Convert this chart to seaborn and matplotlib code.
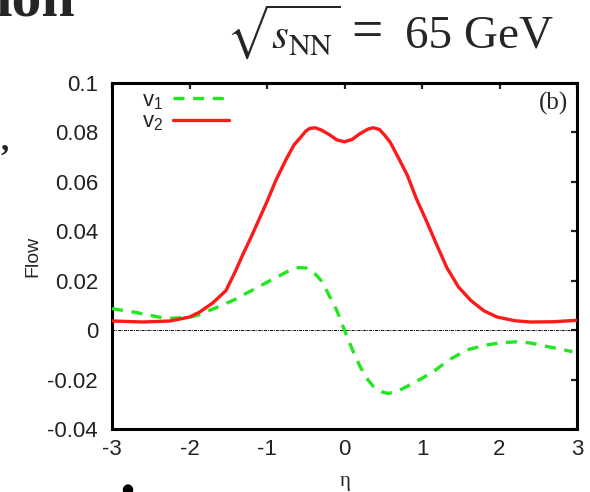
import numpy as np
import pandas as pd
import matplotlib
matplotlib.use("Agg")
import matplotlib.pyplot as plt
import seaborn as sns
from matplotlib.patches import Ellipse

# ---- data ----
eta_v2 = [-3.0, -2.6, -2.25, -2.0, -1.87, -1.7, -1.53, -1.42, -1.31, -1.2, -1.0,
          -0.88, -0.75, -0.65, -0.58, -0.5, -0.45, -0.38, -0.3, -0.19, -0.1, 0.0,
          0.1, 0.2, 0.3, 0.37, 0.45, 0.52, 0.59, 0.7, 0.81, 0.93, 1.06, 1.19, 1.32,
          1.47, 1.63, 1.8, 1.97, 2.2, 2.4, 2.7, 3.0]
v2 = [0.0037, 0.0033, 0.0037, 0.0053, 0.0073, 0.011, 0.016, 0.023, 0.0307, 0.038,
      0.052, 0.061, 0.0693, 0.075, 0.0775, 0.0805, 0.0816, 0.0819, 0.081, 0.079,
      0.077, 0.0762, 0.0772, 0.0795, 0.0813, 0.0819, 0.0812, 0.0788, 0.076,
      0.0695, 0.0627, 0.053, 0.044, 0.0345, 0.0253, 0.0175, 0.012, 0.0078, 0.0053,
      0.0038, 0.0033, 0.0034, 0.004]

eta_v1 = [-3.0, -2.7, -2.3, -2.0, -1.9, -1.7, -1.44, -1.2, -0.92, -0.75, -0.62,
          -0.5, -0.4, -0.3, -0.23, -0.1, 0.0, 0.1, 0.2, 0.3, 0.37, 0.5, 0.57, 0.7,
          0.81, 1.0, 1.15, 1.35, 1.58, 1.8, 2.01, 2.23, 2.4, 2.58, 2.8, 2.94]
v1 = [0.0087, 0.0072, 0.0047, 0.0052, 0.006, 0.0085, 0.012, 0.016, 0.0207, 0.0235,
      0.0253, 0.0252, 0.0235, 0.020, 0.016, 0.008, 0.0, -0.0078, -0.0147, -0.020,
      -0.0227, -0.0252, -0.0256, -0.0245, -0.0227, -0.0195, -0.0167, -0.012,
      -0.008, -0.0062, -0.0051, -0.0047, -0.0052, -0.0064, -0.0078, -0.0087]

xticks = [-3, -2, -1, 0, 1, 2, 3]
xtick_labels = ["-3", "-2", "-1", "0", "1", "2", "3"]
yticks = [-0.04, -0.02, 0.0, 0.02, 0.04, 0.06, 0.08, 0.1]
ytick_labels = ["-0.04", "-0.02", "0", "0.02", "0.04", "0.06", "0.08", "0.1"]
series_labels = [r"v$_1$", r"v$_2$"]

# ---- style ----
sns.set_style("white")
plt.rcParams["font.family"] = ["Liberation Sans", "DejaVu Sans"]
plt.rcParams["mathtext.fontset"] = "custom"
plt.rcParams["mathtext.rm"] = "Liberation Sans"
plt.rcParams["mathtext.it"] = "Liberation Sans:italic"
plt.rcParams["mathtext.default"] = "regular"

W, H = 590, 492
fig = plt.figure(figsize=(W / 100, H / 100), dpi=100)
fig.patch.set_facecolor("white")
L, R, T, B = 112, 577, 83, 429
ax = fig.add_axes([L / W, 1 - B / H, (R - L) / W, (B - T) / H])

df1 = pd.DataFrame({"eta": eta_v1, "flow": v1})
df2 = pd.DataFrame({"eta": eta_v2, "flow": v2})

ax.axhline(0, color="black", lw=0.7, ls=(0, (3, 1, 1, 1)), zorder=1)
sns.lineplot(data=df1, x="eta", y="flow", ax=ax, color="#22e622", lw=2.4,
             label=series_labels[0], zorder=3)
ax.lines[-1].set_linestyle((0, (3.3, 2.6)))
sns.lineplot(data=df2, x="eta", y="flow", ax=ax, color="#ff1a1a", lw=2.4,
             label=series_labels[1], zorder=3)

ax.set_xlim(-3, 3)
ax.set_ylim(-0.04, 0.1)
ax.set_xticks(xticks)
ax.set_xticklabels(xtick_labels)
ax.set_yticks(yticks)
ax.set_yticklabels(ytick_labels)
ax.tick_params(direction="in", length=4, width=1.6, top=True, right=True,
               labelsize=16, colors="#222222", pad=7)
ax.tick_params(axis="y", pad=10)
for s in ax.spines.values():
    s.set_visible(True)
    s.set_linewidth(2.2)
    s.set_color("black")

ax.set_xlabel("η", fontsize=15, family="Liberation Serif")
ax.xaxis.set_label_coords((345 - L) / (R - L), -(472 - B) / (B - T))
ax.set_ylabel("Flow", fontsize=14)
ax.yaxis.set_label_coords(-(112 - 41) / (R - L), (B - 256) / (B - T))

leg = ax.legend(loc="upper left", bbox_to_anchor=(0.064, 0.98), frameon=False,
                markerfirst=False, handlelength=2.5, handletextpad=0.45,
                labelspacing=0.0, fontsize=16, borderpad=0, borderaxespad=0)

ax.text((553 - L) / (R - L), (B - 103) / (B - T), "(b)", ha="center", va="center",
        fontsize=18, family="Liberation Serif", transform=ax.transAxes)

# ---- surrounding slide fragments ----
fig.text(340 / W, 1 - 48 / H, r"$\sqrt{\mathit{s}_{\mathrm{NN}}}$",
         ha="right", va="baseline", fontsize=31, math_fontfamily="stix")
fig.text(367 / W, 1 - 48 / H, "=", ha="center", va="baseline", fontsize=40,
         family="Liberation Serif")
fig.text(553 / W, 1 - 48 / H, "65 GeV", ha="right", va="baseline", fontsize=34,
         family="Liberation Serif")
fig.text(-4 / W, 1 - 15 / H, "ion", ha="left", va="baseline", fontsize=43,
         fontweight="bold", family="Liberation Serif")
fig.text(1 / W, 1 - 150 / H, ",", ha="left", va="baseline", fontsize=24,
         fontweight="bold", family="Liberation Serif")
fig.patches.append(Ellipse((128 / W, 1 - 490 / H), 9 / W, 10 / H,
                           transform=fig.transFigure, color="black"))

fig.savefig("out.png", dpi=100, facecolor="white")
